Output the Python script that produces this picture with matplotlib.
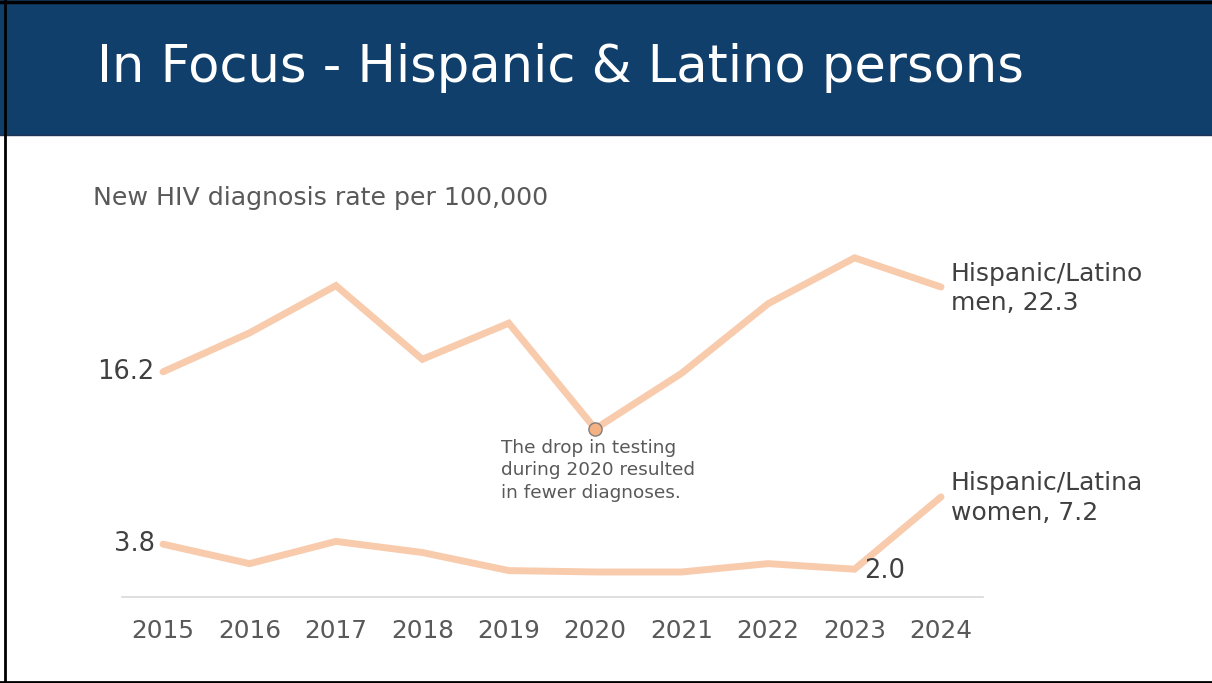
import matplotlib
matplotlib.use('Agg')
import matplotlib.pyplot as plt
from matplotlib.patches import Rectangle
from matplotlib.lines import Line2D

# Rates of new HIV diagnoses per 100,000, 2015-2024
years = [2015, 2016, 2017, 2018, 2019, 2020, 2021, 2022, 2023, 2024]
men_rate = [16.2, 19.0, 22.4, 17.1, 19.7, 12.1, 16.1, 21.1, 24.4, 22.3]
women_rate = [3.8, 2.4, 4.0, 3.2, 1.9, 1.8, 1.8, 2.4, 2.0, 7.2]
men_label = 'Hispanic/Latino\nmen, 22.3'
women_label = 'Hispanic/Latina\nwomen, 7.2'
note = 'The drop in testing\nduring 2020 resulted\nin fewer diagnoses.'

W, H = 1212, 683
LINE = '#F8CBAD'
DOT = '#F4B183'
DARK = '#404040'
GREY = '#595959'
NAVY = '#113F6B'

plt.rcParams['font.family'] = ['DejaVu Sans']

fig = plt.figure(figsize=(W / 100, H / 100), dpi=100)
fig.patch.set_facecolor('white')

# header band
fig.patches.append(Rectangle((0, 1 - 135 / H), 1, 135 / H, transform=fig.transFigure,
                             facecolor=NAVY, edgecolor='none', zorder=0))
fig.lines.append(Line2D([0, 1], [1 - 135 / H] * 2, transform=fig.transFigure,
                        color='#1F3354', lw=1))
fig.text(97 / W, 1 - 68 / H, 'In Focus - Hispanic & Latino persons', color='white',
         fontsize=36.8, va='center', ha='left')

# slide frame
fig.lines.append(Line2D([0, 1], [1 - 1.5 / H] * 2, transform=fig.transFigure, color='black', lw=2.5))
fig.lines.append(Line2D([4.5 / W] * 2, [0, 1], transform=fig.transFigure, color='black', lw=2))
fig.lines.append(Line2D([0, 1], [1.5 / H] * 2, transform=fig.transFigure, color='black', lw=2))

fig.text(93 / W, 1 - 198 / H, 'New HIV diagnosis rate per 100,000', color=GREY,
         fontsize=18.2, va='center', ha='left')

# plot area: y=0 sits at 597px, 13.9 px per unit
ymax = 26
ax = fig.add_axes([122 / W, (H - 597) / H, 861 / W, ymax * 13.9 / H])
ax.set_xlim(2014.525, 2024.486)
ax.set_ylim(0, ymax)
for s in ['top', 'right', 'left']:
    ax.spines[s].set_visible(False)
ax.spines['bottom'].set_color('#D9D9D9')
ax.spines['bottom'].set_linewidth(1.2)
ax.set_yticks([])
ax.set_xticks(years)
ax.set_xticklabels([str(y) for y in years], fontsize=17.8, color=GREY)
ax.tick_params(axis='x', length=0, pad=16)
ax.patch.set_alpha(0)

ax.plot(years, men_rate, color=LINE, lw=5, solid_capstyle='round', solid_joinstyle='miter',
        clip_on=False)
ax.plot(years, women_rate, color=LINE, lw=5, solid_capstyle='round', solid_joinstyle='miter',
        clip_on=False)

# 2020 dip marker and note
i20 = years.index(2020)
ax.plot(years[i20], men_rate[i20], 'o', ms=9.5, mfc=DOT, mec='#7F7F7F', mew=1, clip_on=False,
        zorder=5)
ax.annotate(note, (years[i20], men_rate[i20]), xytext=(-68, -7.5), textcoords='offset points',
            fontsize=13.3, color=GREY, ha='left', va='top', linespacing=1.3)

# start and end value labels
ax.annotate(f'{men_rate[0]:.1f}', (years[0], men_rate[0]), xytext=(-6, 0),
            textcoords='offset points', ha='right', va='center', fontsize=18.5, color=DARK)
ax.annotate(f'{women_rate[0]:.1f}', (years[0], women_rate[0]), xytext=(-6, 0),
            textcoords='offset points', ha='right', va='center', fontsize=18.5, color=DARK)
ax.annotate(f'{women_rate[-2]:.1f}', (years[-2], women_rate[-2]), xytext=(7, -1),
            textcoords='offset points', ha='left', va='center', fontsize=18.5, color=DARK)
ax.annotate(men_label, (years[-1], men_rate[-1]), xytext=(7, -1), textcoords='offset points',
            ha='left', va='center', fontsize=18, color=DARK, linespacing=1.3)
ax.annotate(women_label, (years[-1], women_rate[-1]), xytext=(7, -1), textcoords='offset points',
            ha='left', va='center', fontsize=18, color=DARK, linespacing=1.3)

fig.savefig('out.png', dpi=100, facecolor='white')
